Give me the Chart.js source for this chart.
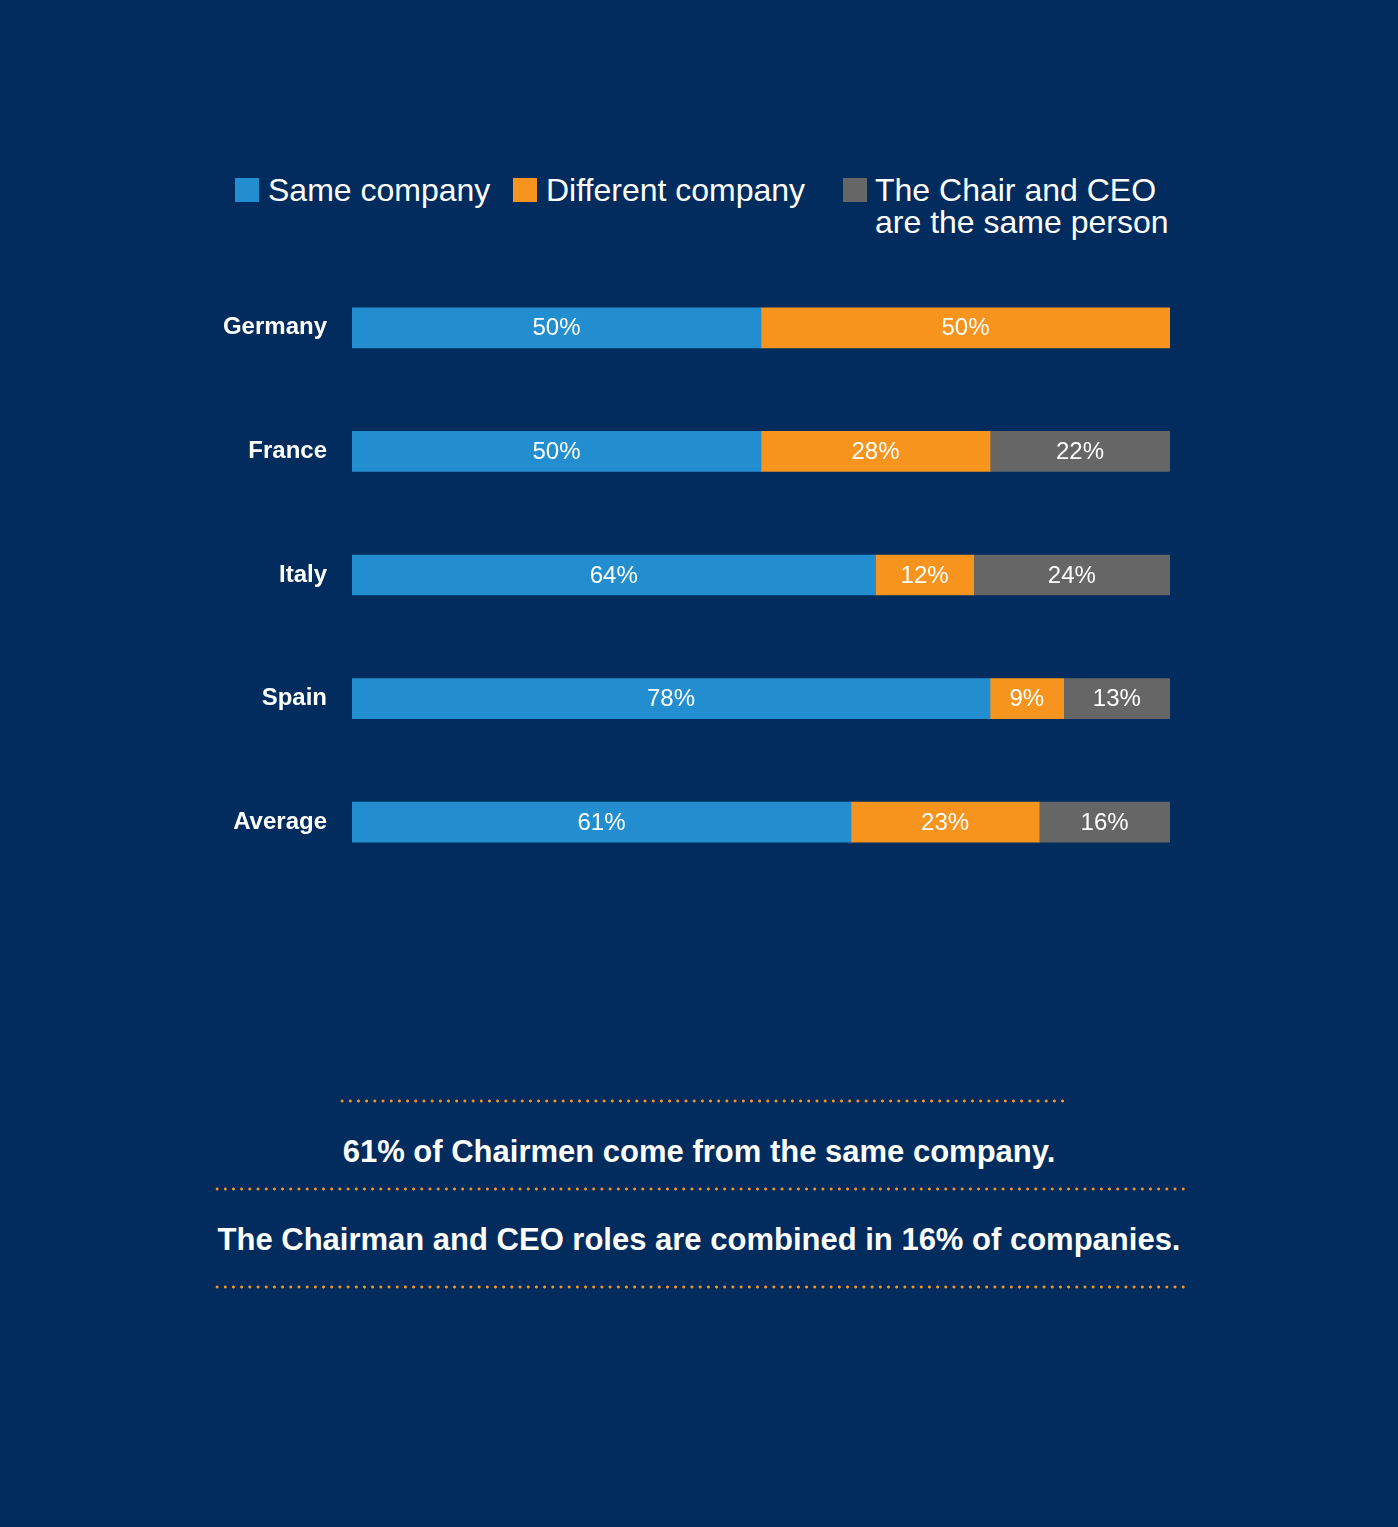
<!DOCTYPE html>
<html>
<head>
<meta charset="utf-8">
<script src="https://cdn.jsdelivr.net/npm/chart.js@4/dist/chart.umd.min.js"></script>
<style>
  html, body { margin: 0; padding: 0; }
  body { width: 1398px; height: 1527px; background: #012C5D; position: relative; overflow: hidden;
         font-family: "Liberation Sans", Arial, sans-serif; }
  .abs { position: absolute; color: #ffffff; white-space: nowrap; }
  .box { position: absolute; width: 24px; height: 24px; }
  .leg { font-size: 32px; line-height: 32px; }
  .note { font-size: 31px; font-weight: bold; line-height: 36px; text-align: center; }
  .dots { position: absolute; height: 4px;
          background-image: radial-gradient(circle, #F7941D 1.3px, rgba(0,0,0,0) 1.8px);
          background-size: 8.2px 4px; background-repeat: repeat-x; }
  #chartWrap { position: absolute; left: 200px; top: 246px; width: 970px; height: 658px; }
</style>
</head>
<body>

<div id="legend"></div>

<div id="chartWrap"><canvas id="c" width="970" height="658"></canvas></div>

<div class="dots" style="left:338px; top:1099px; width:726px;"></div>
<div class="abs note" id="note1" style="left:0; width:1398px; top:1134px;"></div>
<div class="dots" style="left:213px; top:1187px; width:976px;"></div>
<div class="abs note" id="note2" style="left:0; width:1398px; top:1222px;"></div>
<div class="dots" style="left:213px; top:1285px; width:976px;"></div>

<script>
const categories = ["Germany", "France", "Italy", "Spain", "Average"];
const seriesNames = ["Same company", "Different company", ["The Chair and CEO", "are the same person"]];
const sameCompany = [50, 50, 64, 78, 61];
const differentCompany = [50, 28, 12, 9, 23];
const sameSamePerson = [0, 22, 24, 13, 16];
const seriesColors = ["#238ECF", "#F7941D", "#666666"];
const notes = ["61% of Chairmen come from the same company.",
               "The Chairman and CEO roles are combined in 16% of companies."];

// HTML legend (third entry wraps onto two lines)
const legendPos = [{box: 235, text: 268}, {box: 513, text: 546}, {box: 843, text: 875}];
const legend = document.getElementById('legend');
seriesNames.forEach((name, i) => {
  const b = document.createElement('div');
  b.className = 'box';
  b.style.left = legendPos[i].box + 'px';
  b.style.top = '178px';
  b.style.background = seriesColors[i];
  legend.appendChild(b);
  const t = document.createElement('div');
  t.className = 'abs leg';
  t.style.left = legendPos[i].text + 'px';
  t.style.top = '174px';
  t.innerHTML = (Array.isArray(name) ? name : [name]).join('<br>');
  legend.appendChild(t);
});
document.getElementById('note1').textContent = notes[0];
document.getElementById('note2').textContent = notes[1];

const valueLabels = {
  id: 'valueLabels',
  afterDatasetsDraw(chart) {
    const ctx = chart.ctx;
    ctx.save();
    ctx.fillStyle = '#ffffff';
    ctx.font = '24px "Liberation Sans", Arial, sans-serif';
    ctx.textAlign = 'center';
    ctx.textBaseline = 'middle';
    chart.data.datasets.forEach((ds, di) => {
      const meta = chart.getDatasetMeta(di);
      meta.data.forEach((bar, i) => {
        const v = ds.data[i];
        if (!v) return;
        const cx = (bar.x + bar.base) / 2;
        ctx.fillText(v + '%', cx, bar.y + 1);
      });
    });
    ctx.restore();
  }
};

new Chart(document.getElementById('c'), {
  type: 'bar',
  data: {
    labels: categories,
    datasets: [
      { label: "Same company", data: sameCompany, backgroundColor: seriesColors[0] },
      { label: "Different company", data: differentCompany, backgroundColor: seriesColors[1] },
      { label: "The Chair and CEO are the same person", data: sameSamePerson, backgroundColor: seriesColors[2] }
    ]
  },
  options: {
    indexAxis: 'y',
    responsive: false,
    animation: false,
    layout: { padding: { top: 20, bottom: 20, left: 0, right: 0 } },
    datasets: { bar: { barThickness: 40, borderWidth: 0, borderSkipped: false } },
    plugins: { legend: { display: false }, tooltip: { enabled: false } },
    scales: {
      x: { stacked: true, min: 0, max: 100, display: false },
      y: {
        stacked: true,
        grid: { display: true, drawOnChartArea: false, drawTicks: true, tickLength: 25, color: 'rgba(0,0,0,0)' },
        border: { display: false },
        ticks: { color: '#ffffff', padding: 0, font: { family: '"Liberation Sans", Arial, sans-serif', size: 24, weight: 'bold' } },
        afterFit: (s) => { s.width = 152; }
      }
    }
  },
  plugins: [valueLabels]
});
</script>
</body>
</html>
